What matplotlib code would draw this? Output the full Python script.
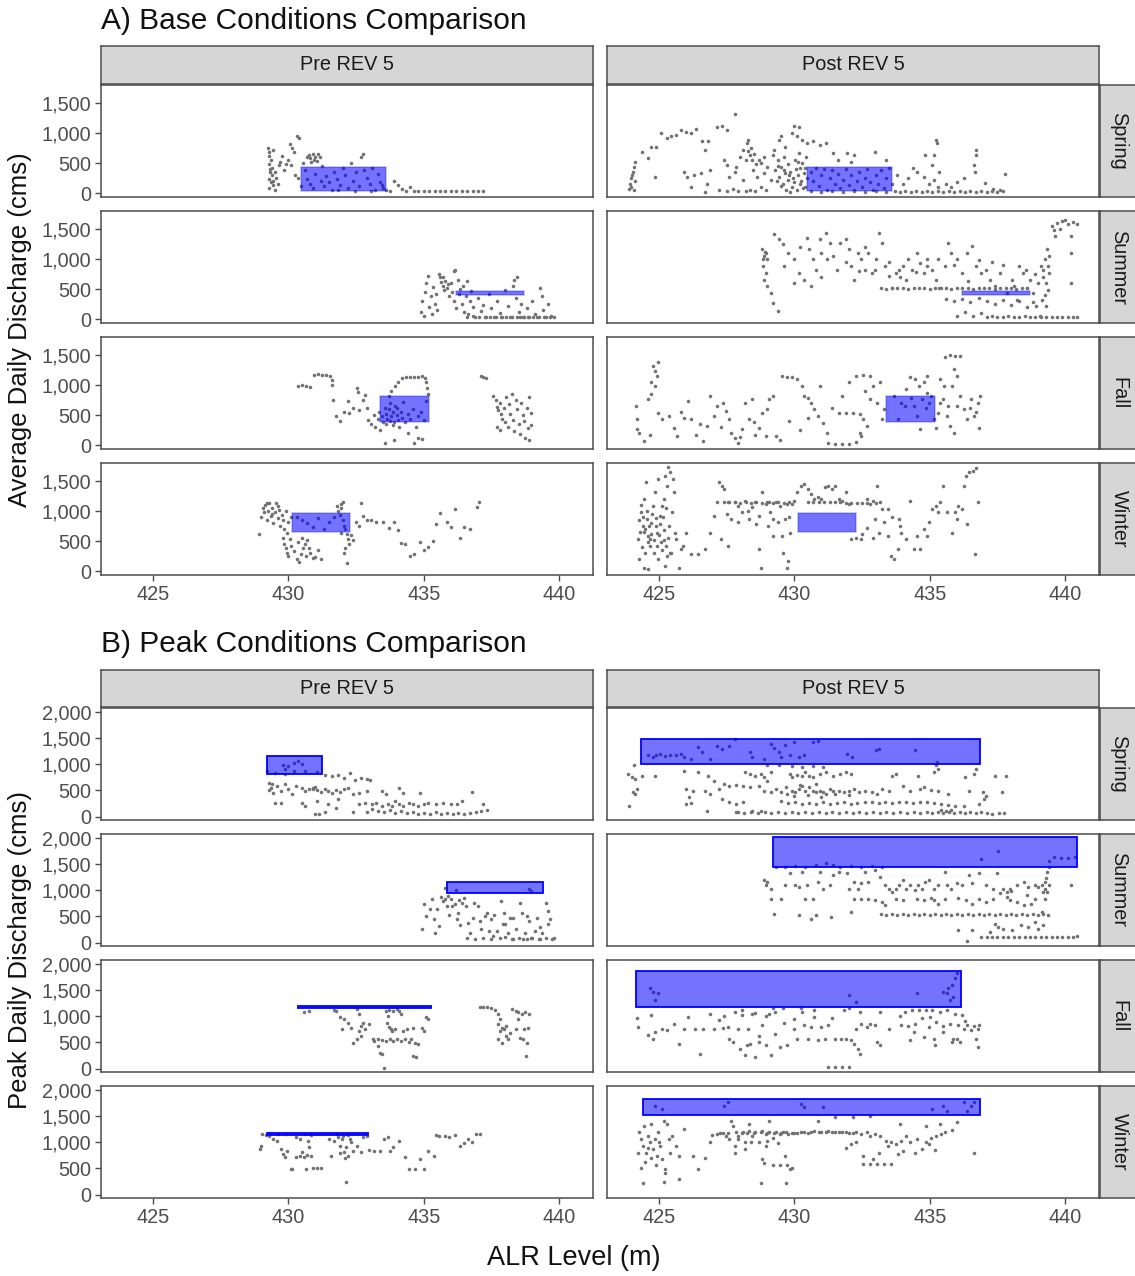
import matplotlib.pyplot as plt
from matplotlib.patches import Rectangle
from matplotlib.ticker import FuncFormatter

plt.rcParams['font.family'] = ['Liberation Sans', 'DejaVu Sans']

SEASONS = ['Spring', 'Summer', 'Fall', 'Winter']
PERIODS = ['Pre REV 5', 'Post REV 5']
X_TICKS = [425, 430, 435, 440]
BASE_Y_TICKS = [0, 500, 1000, 1500]
PEAK_Y_TICKS = [0, 500, 1000, 1500, 2000]

# target windows: (level min, level max, discharge min, discharge max)
BASE_BOX_SPRING = (430.45, 433.62, 30, 440)
BASE_BOX_SUMMER = (436.2, 438.72, 410, 465)
BASE_BOX_FALL = (433.4, 435.2, 385, 825)
BASE_BOX_WINTER = (430.15, 432.28, 655, 970)

PEAK_PRE_BOX_SPRING = (429.2, 431.25, 820, 1150)
PEAK_PRE_BOX_SUMMER = (435.85, 439.4, 940, 1155)
PEAK_PRE_BOX_FALL = (430.35, 435.25, 1150, 1190)
PEAK_PRE_BOX_WINTER = (429.2, 432.95, 1145, 1180)
PEAK_POST_BOX_SPRING = (424.35, 436.85, 1010, 1480)
PEAK_POST_BOX_SUMMER = (429.2, 440.45, 1435, 2005)
PEAK_POST_BOX_FALL = (424.15, 436.15, 1175, 1855)
PEAK_POST_BOX_WINTER = (424.4, 436.85, 1510, 1820)

# daily observations: (ALR level m, discharge cms)
BASE_PRE_SPRING = [
    (429.25, 760), (429.3, 690), (429.28, 620), (429.35, 560), (429.3, 480), (429.4, 420), (429.33, 350),
    (429.38, 300), (429.3, 240), (429.35, 180), (429.42, 130), (429.3, 90), (429.5, 60), (429.45, 200),
    (429.55, 260), (429.6, 150), (429.5, 350), (429.65, 470), (429.7, 520), (429.75, 620), (429.85, 380),
    (429.9, 480), (430.0, 560), (430.05, 820), (430.15, 760), (430.3, 950), (430.4, 920), (430.2, 680),
    (430.25, 300), (430.35, 250), (430.55, 500), (430.7, 600), (430.75, 640), (430.8, 580), (430.85, 520),
    (430.9, 660), (430.95, 560), (431.0, 610), (431.05, 540), (431.1, 650), (431.15, 600), (430.6, 380),
    (430.7, 230), (430.8, 150), (430.9, 80), (431.0, 320), (431.2, 200), (431.3, 120), (431.4, 280),
    (431.5, 180), (431.6, 60), (431.7, 350), (431.8, 240), (431.9, 130), (432.0, 420), (432.1, 300),
    (432.2, 80), (432.3, 510), (432.4, 200), (432.5, 360), (432.6, 120), (432.7, 600), (432.75, 660),
    (432.8, 380), (432.9, 250), (433.0, 150), (433.1, 420), (433.2, 60), (433.3, 320), (433.4, 180),
    (433.5, 90), (433.6, 50), (433.75, 40), (433.9, 200), (434.05, 130), (434.2, 70), (434.35, 40),
    (434.5, 110), (434.65, 40), (434.8, 30), (435.0, 35), (435.2, 40), (435.4, 30), (435.6, 35),
    (435.8, 30), (436.0, 40), (436.2, 30), (436.4, 35), (436.6, 30), (436.8, 35), (437.0, 30), (437.2, 30),
    (429.32, 400), (429.45, 720), (430.1, 470), (430.45, 120), (431.25, 450), (431.85, 60), (432.45, 40),
    (433.05, 40), (433.45, 130),
]
BASE_PRE_SUMMER = [
    (434.9, 120), (434.95, 300), (435.0, 50), (435.05, 450), (435.1, 600), (435.15, 720), (435.2, 200),
    (435.25, 380), (435.3, 80), (435.35, 540), (435.4, 260), (435.5, 150), (435.6, 700), (435.65, 620),
    (435.7, 560), (435.75, 480), (435.8, 640), (435.85, 520), (435.9, 580), (435.95, 380), (436.0, 600),
    (436.05, 450), (436.1, 300), (436.15, 820), (436.2, 180), (436.25, 660), (436.3, 420), (436.35, 500),
    (436.4, 250), (436.45, 560), (436.5, 120), (436.55, 380), (436.6, 640), (436.65, 80), (436.7, 300),
    (436.75, 470), (436.8, 200), (436.9, 40), (437.0, 350), (437.1, 130), (437.2, 240), (437.3, 40),
    (437.4, 420), (437.5, 180), (437.6, 40), (437.7, 300), (437.8, 100), (437.9, 40), (438.0, 480),
    (438.1, 220), (438.2, 40), (438.3, 560), (438.35, 650), (438.4, 360), (438.45, 700), (438.5, 120),
    (438.55, 40), (438.6, 250), (438.7, 40), (438.8, 180), (438.9, 40), (439.0, 300), (439.1, 90),
    (439.2, 40), (439.3, 520), (439.35, 380), (439.4, 160), (439.5, 40), (439.6, 250), (439.7, 60),
    (439.8, 40), (436.6, 40), (436.8, 45), (437.05, 35), (437.25, 40), (437.45, 35), (437.65, 40),
    (437.85, 35), (438.05, 40), (438.25, 35), (438.45, 40), (438.65, 35), (438.85, 40), (439.05, 35),
    (439.25, 40), (439.45, 35), (439.65, 40), (435.55, 760), (435.72, 700), (436.1, 800), (435.45, 420),
]
BASE_PRE_FALL = [
    (430.35, 980), (430.5, 1000), (430.65, 990), (430.8, 975), (430.95, 1170), (431.1, 1180),
    (431.25, 1175), (431.4, 1170), (431.55, 1150), (431.6, 1080), (431.62, 1000), (431.65, 760),
    (431.75, 480), (431.9, 400), (432.05, 560), (432.2, 730), (432.25, 530), (432.4, 620), (432.55, 960),
    (432.58, 880), (432.62, 590), (432.75, 750), (432.82, 840), (432.9, 620), (432.95, 420), (433.05, 360),
    (433.15, 500), (433.2, 300), (433.3, 440), (433.35, 560), (433.45, 480), (433.5, 380), (433.55, 620),
    (433.6, 520), (433.65, 440), (433.7, 600), (433.75, 700), (433.8, 480), (433.85, 560), (433.9, 380),
    (433.95, 650), (434.0, 500), (434.05, 420), (434.1, 300), (434.15, 560), (434.2, 460), (434.25, 720),
    (434.3, 380), (434.4, 520), (434.5, 440), (434.6, 600), (434.7, 300), (434.8, 480), (434.9, 560),
    (435.0, 420), (433.7, 820), (433.8, 900), (433.95, 980), (434.05, 1060), (434.2, 1120), (434.35, 1140),
    (434.5, 1130), (434.65, 1145), (434.8, 1140), (434.95, 1150), (435.05, 1120), (435.1, 1050),
    (435.12, 950), (435.15, 860), (435.1, 740), (433.55, 40), (433.9, 90), (434.65, 30), (434.8, 120),
    (434.92, 95), (434.4, 200), (433.4, 250), (437.1, 1150), (437.2, 1140), (437.3, 1120), (437.55, 820),
    (437.65, 750), (437.7, 640), (437.75, 580), (437.8, 700), (437.85, 520), (437.9, 440), (437.95, 620),
    (438.0, 380), (438.05, 800), (438.1, 300), (438.15, 680), (438.2, 520), (438.25, 860), (438.3, 420),
    (438.35, 240), (438.4, 760), (438.45, 600), (438.5, 360), (438.55, 180), (438.6, 700), (438.65, 500),
    (438.7, 400), (438.75, 120), (438.8, 620), (438.85, 280), (438.9, 800), (438.95, 540), (438.95, 340),
    (438.9, 90), (437.7, 300), (437.8, 250), (433.6, 350), (433.75, 400), (433.85, 330), (434.0, 620),
]
BASE_PRE_WINTER = [
    (428.9, 620), (429.0, 900), (429.05, 1050), (429.1, 980), (429.15, 1100), (429.2, 850), (429.25, 1010),
    (429.3, 1130), (429.35, 920), (429.4, 1060), (429.45, 800), (429.5, 980), (429.55, 1140), (429.6, 880),
    (429.65, 1020), (429.7, 760), (429.75, 940), (429.8, 860), (429.85, 700), (429.9, 1010), (429.95, 640),
    (430.0, 820), (430.05, 540), (430.1, 900), (429.8, 560), (429.85, 460), (429.9, 380), (429.95, 300),
    (430.0, 250), (430.1, 420), (430.2, 340), (430.3, 200), (430.35, 480), (430.4, 150), (430.45, 280),
    (430.5, 560), (430.55, 380), (430.6, 460), (430.65, 260), (430.7, 520), (430.75, 380), (430.8, 300),
    (430.9, 220), (431.0, 240), (431.1, 360), (431.2, 210), (430.3, 900), (430.5, 860), (430.7, 800),
    (430.9, 740), (431.1, 880), (431.3, 700), (431.5, 820), (431.7, 900), (431.8, 1080), (431.85, 1000),
    (431.9, 940), (431.95, 1120), (432.0, 860), (432.05, 760), (432.1, 700), (432.15, 620), (432.2, 540),
    (432.25, 460), (432.1, 380), (432.05, 300), (432.15, 140), (431.95, 640), (432.3, 600), (432.4, 520),
    (432.5, 820), (432.6, 760), (432.7, 1140), (432.75, 920), (432.9, 860), (433.05, 850), (433.25, 820),
    (433.5, 820), (433.7, 720), (433.9, 820), (434.05, 690), (434.15, 470), (434.3, 460), (434.5, 250),
    (434.65, 280), (434.85, 490), (435.0, 360), (435.15, 410), (435.35, 500), (435.45, 790), (435.6, 970),
    (435.85, 820), (436.0, 740), (436.15, 1030), (436.35, 550), (436.5, 740), (436.7, 710), (436.95, 1070),
    (437.05, 1150), (429.2, 1140), (429.4, 950), (429.6, 1080), (431.95, 1060), (432.0, 1150),
]
BASE_POST_SPRING = [
    (423.88, 75), (423.94, 160), (423.98, 245), (424.03, 356), (424.07, 440), (424.13, 525), (423.97, 100),
    (424.07, 45), (424.0, 300), (424.1, 200), (424.39, 693), (424.58, 580), (424.71, 777), (424.9, 766),
    (424.84, 272), (425.09, 1002), (425.29, 918), (425.44, 946), (425.61, 974), (425.8, 1047),
    (425.99, 1013), (426.18, 1002), (426.38, 1069), (425.93, 356), (426.05, 272), (426.18, 103),
    (426.31, 300), (426.54, 328), (426.57, 862), (426.7, 721), (426.82, 862), (426.89, 384), (426.76, 160),
    (427.15, 1103), (427.34, 1125), (427.53, 1047), (427.82, 1328), (426.7, 20), (427.4, 553), (427.53, 468),
    (427.59, 272), (427.72, 75), (427.85, 440), (427.98, 609), (428.11, 721), (428.24, 833), (428.3, 890),
    (428.36, 637), (428.43, 553), (428.49, 384), (428.62, 272), (428.75, 103), (428.88, 328), (429.0, 440),
    (429.13, 216), (428.88, 609), (428.75, 496), (428.11, 216), (428.36, 45), (427.79, 356), (428.3, 700),
    (428.4, 760), (428.5, 650), (428.2, 560), (428.6, 480), (428.7, 560), (428.55, 40), (428.95, 60),
    (427.9, 40), (427.2, 50), (427.5, 30), (428.2, 30), (429.45, 890), (429.65, 777), (429.9, 1002),
    (430.09, 946), (430.29, 890), (430.48, 833), (430.67, 862), (430.93, 805), (431.18, 833),
    (429.97, 1125), (430.16, 1103), (429.52, 946), (429.26, 721), (429.2, 637), (429.39, 553),
    (429.52, 440), (429.65, 328), (429.77, 216), (429.9, 103), (430.03, 553), (430.16, 665), (430.29, 496),
    (430.35, 328), (430.22, 160), (430.09, 48), (429.84, 20), (429.58, 160), (429.45, 272), (429.3, 380),
    (429.6, 600), (429.75, 480), (429.85, 360), (429.95, 250), (430.05, 400), (430.15, 300), (430.25, 200),
    (430.38, 420), (430.42, 600), (430.4, 100), (429.7, 60), (430.6, 350), (430.7, 200), (430.8, 420),
    (430.9, 120), (431.0, 300), (431.1, 400), (431.2, 60), (431.3, 250), (431.4, 380), (431.5, 150),
    (431.6, 320), (431.7, 80), (431.8, 220), (431.9, 400), (432.0, 130), (432.1, 300), (432.2, 50),
    (432.3, 200), (432.4, 350), (432.5, 100), (432.6, 250), (432.7, 400), (432.8, 180), (432.9, 60),
    (433.0, 300), (433.1, 150), (433.2, 380), (433.3, 90), (433.4, 250), (433.5, 420), (433.6, 160),
    (431.44, 665), (431.95, 665), (432.21, 637), (432.98, 693), (432.08, 525), (431.6, 560), (433.4, 560),
    (434.0, 160), (434.39, 412), (434.52, 356), (434.78, 272), (434.97, 160), (435.16, 216), (435.29, 103),
    (435.22, 890), (435.26, 833), (434.84, 637), (435.16, 637), (435.1, 468), (435.35, 356), (433.8, 300),
    (434.2, 250), (433.7, 30), (433.9, 25), (434.1, 35), (434.3, 20), (434.5, 30), (434.7, 25), (434.9, 35),
    (435.1, 20), (435.3, 30), (435.5, 25), (435.7, 35), (435.9, 20), (436.1, 30), (436.3, 25), (436.5, 35),
    (436.7, 20), (436.9, 30), (437.1, 25), (437.3, 35), (437.5, 20), (437.7, 30), (430.6, 30), (431.0, 25),
    (431.4, 30), (431.8, 25), (432.2, 30), (432.6, 25), (433.0, 30), (433.4, 25), (436.7, 721),
    (436.72, 637), (436.64, 468), (436.68, 356), (436.25, 244), (437.03, 170), (437.79, 318), (437.6, 48),
    (437.34, 75), (435.6, 150), (435.8, 100), (436.0, 180), (429.35, 200), (429.5, 120), (429.62, 380),
    (429.8, 300), (430.0, 180), (430.12, 520), (430.3, 80), (430.45, 250), (429.4, 460), (430.2, 420),
]
BASE_POST_SUMMER = [
    (428.81, 1163), (428.88, 1051), (428.94, 1107), (429.0, 996), (428.84, 884), (428.94, 772),
    (428.88, 661), (429.0, 549), (429.13, 437), (429.2, 270), (429.39, 130), (429.26, 1414), (429.45, 1330),
    (429.58, 1247), (428.85, 1000), (428.9, 1120), (429.77, 1107), (429.97, 996), (430.16, 772),
    (430.35, 661), (430.48, 1358), (430.54, 1163), (430.67, 996), (430.8, 828), (430.93, 1330),
    (430.99, 1107), (431.18, 1442), (431.31, 1275), (431.44, 1051), (431.57, 828), (431.7, 1275),
    (431.89, 1330), (432.02, 1163), (432.08, 884), (432.21, 661), (432.34, 1107), (432.46, 996),
    (432.59, 828), (432.72, 1107), (432.85, 772), (432.98, 828), (433.11, 1442), (433.23, 1275),
    (433.36, 884), (433.49, 716), (433.62, 521), (433.75, 772), (433.88, 828), (434.01, 884), (434.14, 661),
    (434.33, 828), (434.52, 1107), (434.65, 940), (434.78, 772), (434.91, 996), (435.1, 828), (435.22, 661),
    (435.35, 521), (435.55, 884), (435.67, 1275), (435.8, 1107), (436.0, 996), (436.19, 772), (436.38, 1107),
    (436.57, 1219), (436.7, 884), (436.89, 772), (437.08, 828), (437.21, 661), (437.4, 549), (437.6, 772),
    (437.85, 437), (438.04, 661), (438.23, 326), (438.43, 772), (438.56, 828), (438.69, 661), (438.81, 437),
    (438.94, 214), (439.07, 47), (439.13, 326), (439.2, 828), (439.26, 996), (439.33, 1163), (439.39, 772),
    (439.36, 493), (439.29, 214), (439.52, 1554), (439.71, 1610), (439.9, 1637), (440.1, 1582),
    (440.29, 1621), (440.42, 1582), (439.64, 1386), (440.22, 1386), (440.22, 1107), (440.22, 605),
    (439.6, 1480), (439.8, 1500), (440.0, 1650), (429.6, 880), (430.0, 600), (430.2, 1200), (430.6, 560),
    (431.0, 700), (431.2, 1000), (431.9, 950), (432.4, 800), (432.6, 1200), (433.0, 1000), (433.5, 960),
    (433.9, 700), (434.2, 1000), (434.5, 780), (434.9, 880), (435.3, 1000), (435.9, 900), (436.4, 640),
    (436.8, 980), (437.3, 960), (437.7, 900), (438.1, 560), (438.3, 880), (438.6, 520), (438.9, 760),
    (439.0, 600), (439.1, 880), (439.2, 700), (439.25, 400), (439.3, 600), (439.35, 880), (439.4, 1050),
    (433.2, 520), (433.4, 510), (433.6, 525), (433.8, 515), (434.0, 520), (434.2, 510), (434.4, 525),
    (434.6, 515), (434.8, 520), (435.0, 510), (435.2, 525), (435.4, 515), (435.6, 520), (435.8, 510),
    (436.0, 525), (436.2, 515), (436.4, 520), (436.6, 510), (436.8, 525), (437.0, 515), (437.2, 520),
    (437.4, 510), (437.6, 525), (437.8, 515), (438.0, 520), (438.2, 510), (438.4, 525), (438.6, 515),
    (435.6, 340), (435.9, 300), (436.2, 330), (436.5, 280), (436.8, 350), (437.1, 300), (437.4, 260),
    (437.7, 320), (438.0, 240), (438.3, 300), (438.6, 200), (438.8, 280), (436.0, 60), (436.3, 120),
    (436.6, 50), (436.9, 100), (437.1, 40), (437.3, 50), (437.5, 40), (437.7, 35), (437.9, 45), (438.1, 40),
    (438.3, 35), (438.5, 45), (438.7, 40), (438.9, 35), (439.1, 40), (439.3, 35), (439.5, 40), (439.7, 30),
    (439.9, 35), (440.1, 30), (440.3, 35), (440.45, 30),
]
BASE_POST_FALL = [
    (424.14, 654), (424.2, 430), (424.18, 261), (424.27, 205), (424.46, 64), (424.65, 176), (424.59, 766),
    (424.69, 850), (424.72, 1047), (424.78, 1328), (424.85, 1243), (424.91, 1159), (424.97, 1384),
    (424.87, 991), (424.97, 542), (425.1, 430), (425.36, 486), (425.55, 289), (425.68, 148), (425.94, 457),
    (426.06, 738), (426.19, 430), (426.38, 176), (426.62, 64), (426.77, 317), (426.9, 822), (427.03, 486),
    (427.15, 654), (427.35, 710), (427.47, 570), (427.6, 430), (427.67, 205), (427.79, 120), (427.92, 36),
    (428.05, 261), (428.18, 710), (428.31, 430), (428.44, 766), (428.56, 176), (428.69, 289), (428.82, 542),
    (428.95, 148), (429.08, 766), (429.21, 822), (429.33, 148), (429.46, 92), (429.53, 1159), (429.72, 1131),
    (429.91, 1131), (430.1, 1103), (430.29, 991), (430.36, 822), (430.49, 794), (430.62, 710), (430.74, 598),
    (430.87, 486), (430.94, 991), (431.06, 373), (431.19, 205), (431.26, 36), (431.51, 25), (431.77, 25),
    (432.03, 25), (432.28, 47), (431.64, 542), (431.9, 542), (432.15, 542), (432.41, 514), (432.54, 430),
    (432.67, 317), (432.41, 205), (432.47, 148), (431.77, 822), (432.03, 1047), (432.28, 1159),
    (432.54, 1170), (432.79, 1159), (432.92, 991), (432.79, 766), (433.05, 710), (433.18, 1047),
    (433.24, 430), (433.69, 822), (433.95, 710), (434.14, 934), (434.27, 1131), (434.4, 654), (434.53, 486),
    (434.65, 261), (434.78, 1047), (434.91, 1159), (435.04, 822), (435.17, 430), (435.23, 289),
    (435.36, 1103), (435.49, 766), (435.55, 1468), (435.74, 1507), (435.94, 1485), (436.13, 1485),
    (435.88, 1272), (435.99, 1159), (435.62, 486), (435.74, 317), (435.88, 205), (436.0, 654), (436.13, 822),
    (436.26, 598), (436.38, 430), (436.51, 766), (436.64, 486), (436.77, 710), (436.83, 289), (436.87, 822),
    (435.51, 991), (435.68, 654), (435.81, 991), (435.36, 710), (434.59, 991), (434.46, 1103), (434.08, 654),
    (433.82, 430), (434.85, 626), (434.97, 710), (434.72, 766), (425.8, 560), (426.5, 360), (427.3, 300),
    (428.0, 140), (428.5, 380), (429.0, 600), (429.8, 400), (430.2, 250), (430.5, 450), (431.4, 620),
    (432.6, 900), (433.3, 600), (434.3, 780), (434.9, 870), (435.3, 540), (436.5, 620), (436.7, 560),
]
BASE_POST_WINTER = [
    (424.21, 532), (424.27, 197), (424.33, 979), (424.4, 756), (424.44, 58), (424.46, 1202), (424.53, 1481),
    (424.56, 867), (424.59, 588), (424.65, 421), (424.72, 811), (424.78, 1091), (424.82, 309), (424.85, 1314),
    (424.91, 644), (424.95, 1537), (424.97, 197), (425.04, 923), (425.1, 1091), (425.17, 1202), (425.21, 86),
    (425.23, 1593), (425.26, 421), (425.29, 1426), (425.33, 1732), (425.36, 756), (425.42, 1649),
    (425.46, 309), (425.51, 1537), (425.55, 1314), (425.62, 532), (425.74, 58), (425.81, 365), (425.9, 421),
    (426.0, 644), (426.19, 281), (426.45, 281), (426.71, 365), (424.59, 30), (424.3, 650), (424.4, 900),
    (424.5, 700), (424.6, 480), (424.7, 620), (424.8, 520), (424.9, 760), (425.0, 600), (425.1, 350),
    (425.2, 520), (425.3, 250), (426.9, 644), (427.03, 923), (427.15, 1158), (427.22, 1481), (427.31, 1426),
    (427.41, 1370), (427.54, 1147), (427.67, 867), (427.79, 1147), (427.92, 1091), (428.05, 979),
    (428.18, 1174), (428.31, 867), (428.44, 1063), (428.56, 1147), (428.69, 923), (428.82, 1314),
    (428.95, 1119), (429.01, 756), (429.08, 1158), (429.21, 867), (429.33, 1147), (429.46, 1091),
    (429.53, 588), (429.59, 309), (429.65, 867), (429.72, 1119), (429.78, 170), (429.85, 644), (429.91, 1119),
    (429.97, 1174), (430.1, 1314), (430.23, 1426), (430.36, 1453), (430.49, 1370), (430.62, 1286),
    (430.74, 1202), (430.87, 1230), (431.0, 1202), (431.13, 1398), (431.26, 1426), (431.38, 1370),
    (431.51, 1426), (431.64, 1202), (431.77, 1174), (431.9, 1314), (432.03, 1119), (432.09, 532),
    (432.28, 560), (432.47, 532), (432.67, 1202), (432.79, 1119), (432.92, 1174), (432.99, 867),
    (433.05, 1426), (433.12, 644), (433.24, 1035), (433.31, 812), (433.44, 588), (433.56, 253),
    (433.69, 197), (433.82, 365), (433.88, 867), (433.95, 644), (434.14, 532), (434.27, 1174), (434.4, 365),
    (434.53, 588), (434.65, 365), (434.78, 700), (434.91, 588), (434.97, 812), (435.1, 1035), (435.23, 1091),
    (435.36, 1147), (435.49, 1426), (435.62, 979), (435.81, 644), (436.0, 867), (436.19, 1035),
    (436.26, 1426), (436.32, 1593), (436.45, 1649), (436.58, 1677), (436.71, 1716), (436.77, 1147),
    (436.67, 281), (436.38, 784), (436.06, 1091), (435.94, 979), (435.29, 979), (433.44, 1035),
    (433.18, 1147), (428.76, 58), (429.72, 58), (427.54, 421), (427.28, 532), (428.69, 365), (429.21, 588),
    (427.4, 1150), (427.6, 1150), (427.8, 1150), (428.0, 1145), (428.2, 1150), (428.4, 1145), (428.6, 1150),
    (428.8, 1145), (429.0, 1150), (429.2, 1145), (429.4, 1150), (429.6, 1140), (429.8, 1150), (430.5, 1155),
    (430.7, 1160), (430.9, 1150), (431.1, 1160), (431.3, 1155), (431.5, 1160), (431.7, 1150), (431.9, 1140),
    (432.1, 1135), (432.3, 1130), (432.5, 1140), (432.7, 1130), (433.0, 1140), (427.5, 950), (427.9, 820),
    (428.3, 1000), (428.6, 780), (429.1, 980), (429.4, 820), (429.8, 900), (432.5, 620), (432.7, 720),
    (432.9, 560), (433.6, 900), (433.9, 760), (424.25, 850), (424.35, 1100), (424.45, 650), (424.55, 1000),
    (424.62, 760), (424.68, 540), (424.75, 950), (424.88, 880), (424.93, 420), (425.02, 780), (425.08, 480),
    (425.14, 900), (425.2, 680), (425.27, 1050), (425.33, 560), (425.4, 300), (425.48, 980), (425.58, 640),
    (424.38, 400), (424.48, 300),
]

PEAK_PRE_SPRING = [
    (429.79, 990), (430.0, 959), (430.21, 1022), (430.35, 1054), (430.49, 1009), (429.86, 908),
    (429.22, 864), (429.5, 833), (429.86, 820), (430.21, 864), (430.63, 864), (431.06, 845), (431.34, 801),
    (431.62, 770), (431.84, 801), (432.05, 738), (432.26, 833), (432.47, 707), (432.68, 738), (432.89, 719),
    (433.03, 694), (429.29, 644), (429.36, 549), (429.43, 454), (429.57, 580), (429.71, 486), (429.86, 612),
    (430.0, 517), (430.14, 423), (430.28, 580), (430.49, 549), (430.63, 486), (430.77, 517), (430.92, 549),
    (431.06, 505), (431.2, 467), (431.34, 530), (431.48, 486), (431.62, 454), (431.76, 505), (431.9, 467),
    (432.05, 517), (432.19, 549), (432.4, 423), (432.61, 454), (432.89, 486), (433.46, 486), (433.6, 423),
    (434.1, 549), (434.24, 454), (434.87, 454), (436.78, 467), (429.5, 265), (429.71, 252), (430.49, 265),
    (430.63, 202), (431.06, 297), (431.48, 233), (431.84, 328), (431.76, 170), (430.99, 44), (431.13, 44),
    (431.34, 88), (432.4, 88), (432.61, 233), (432.82, 265), (433.1, 233), (433.24, 265), (433.46, 202),
    (433.67, 233), (433.81, 202), (433.95, 297), (434.1, 233), (434.24, 202), (434.45, 265), (434.59, 233),
    (434.8, 202), (435.01, 233), (435.15, 265), (435.44, 233), (435.72, 265), (436.0, 233), (436.21, 233),
    (436.42, 297), (437.19, 233), (432.89, 88), (433.1, 139), (433.32, 107), (433.53, 88), (433.74, 126),
    (433.95, 76), (434.17, 107), (434.38, 63), (434.59, 88), (434.8, 44), (435.01, 76), (435.22, 44),
    (435.44, 88), (435.65, 44), (435.86, 76), (436.07, 44), (436.28, 76), (436.5, 44), (436.71, 76),
    (436.92, 88), (437.13, 107), (437.34, 126), (429.3, 500), (429.4, 620), (430.9, 520), (431.0, 560),
]
PEAK_PRE_SUMMER = [
    (435.01, 730), (435.08, 508), (434.94, 254), (435.22, 635), (435.29, 825), (435.36, 444), (435.43, 190),
    (435.57, 317), (435.72, 794), (435.79, 838), (435.86, 698), (436.0, 825), (436.14, 730), (436.21, 444),
    (436.28, 571), (436.42, 762), (436.49, 857), (436.57, 698), (436.64, 381), (436.71, 190), (436.85, 762),
    (436.99, 698), (437.06, 413), (437.13, 254), (437.27, 508), (437.42, 222), (437.49, 444), (437.56, 127),
    (437.7, 222), (437.84, 794), (437.91, 349), (437.98, 571), (438.12, 190), (438.19, 476), (438.26, 63),
    (438.4, 254), (438.54, 762), (438.61, 571), (438.68, 63), (438.75, 190), (438.82, 508), (438.96, 95),
    (439.1, 222), (439.17, 476), (439.24, 63), (439.38, 190), (439.52, 762), (439.59, 603), (439.67, 444),
    (439.74, 76), (439.81, 95), (436.6, 80), (436.9, 70), (437.2, 90), (437.5, 60), (437.8, 80), (438.0, 100),
    (438.3, 70), (438.5, 90), (438.8, 60), (439.0, 80), (439.3, 70), (439.5, 90), (435.65, 860),
    (435.9, 880), (436.05, 700), (436.3, 820), (435.5, 640), (435.95, 520), (436.35, 330), (436.8, 460),
    (437.35, 560), (437.6, 520), (438.0, 360), (438.3, 470), (438.9, 420), (439.3, 300), (439.6, 360),
    (435.8, 1050), (436.2, 1000), (438.9, 1020), (438.95, 980),
]
PEAK_PRE_FALL = [
    (430.57, 1071), (430.78, 1103), (431.7, 1122), (431.77, 1103), (431.91, 974), (432.05, 942),
    (432.19, 878), (431.98, 750), (432.33, 782), (432.55, 1135), (432.62, 1038), (432.69, 814), (432.76, 878),
    (432.83, 750), (432.97, 846), (432.62, 718), (432.4, 494), (432.55, 558), (432.69, 622), (433.6, 1103),
    (433.67, 1006), (433.64, 878), (433.7, 801), (433.79, 763), (433.84, 718), (433.93, 750), (434.03, 1135),
    (434.1, 1103), (434.17, 1038), (433.11, 558), (433.18, 526), (433.32, 558), (433.46, 545), (433.6, 526),
    (433.74, 558), (433.88, 526), (434.03, 558), (434.17, 526), (434.31, 558), (434.45, 506), (434.52, 571),
    (434.66, 494), (434.8, 462), (434.24, 718), (434.38, 750), (434.59, 782), (434.94, 782), (435.01, 718),
    (435.08, 974), (435.15, 942), (433.32, 430), (433.39, 301), (433.46, 269), (433.53, 13), (434.59, 237),
    (434.73, 224), (437.06, 1167), (437.2, 1167), (437.34, 1167), (437.48, 1147), (437.62, 1122),
    (437.76, 1038), (437.83, 942), (437.76, 846), (437.9, 782), (437.83, 718), (438.04, 622), (437.76, 558),
    (437.9, 494), (438.05, 814), (438.19, 686), (438.26, 1135), (438.4, 1103), (438.47, 1071), (438.61, 1038),
    (438.75, 1071), (438.89, 1038), (438.47, 942), (438.4, 750), (438.54, 590), (438.68, 558), (438.82, 494),
    (438.72, 750), (438.86, 782), (438.78, 237), (437.97, 750), (438.12, 558), (433.7, 1120), (433.85, 1100),
]
PEAK_PRE_WINTER = [
    (428.95, 870), (428.99, 933), (429.02, 1156), (429.16, 1136), (429.3, 1124), (429.44, 1060),
    (429.58, 1028), (429.72, 870), (429.79, 775), (429.86, 711), (429.94, 838), (430.08, 489), (430.15, 489),
    (430.29, 1092), (430.43, 1060), (430.57, 711), (430.64, 489), (430.71, 1028), (430.78, 902),
    (430.85, 743), (430.92, 502), (431.06, 502), (431.2, 502), (430.43, 743), (430.29, 711), (431.56, 743),
    (431.49, 1060), (431.7, 1028), (431.84, 1092), (431.91, 933), (431.98, 1060), (432.05, 806),
    (432.12, 902), (432.19, 743), (432.26, 1060), (432.33, 997), (432.12, 248), (432.4, 838), (432.55, 933),
    (432.69, 806), (432.76, 1092), (432.9, 1124), (432.97, 857), (433.18, 838), (433.39, 832), (433.53, 1060),
    (433.67, 1092), (433.74, 838), (433.88, 902), (434.1, 1028), (434.31, 711), (434.45, 489), (434.66, 489),
    (434.87, 679), (435.01, 489), (435.15, 838), (435.37, 743), (435.44, 1136), (435.58, 1124),
    (435.79, 1124), (435.93, 1092), (436.15, 1136), (436.35, 933), (436.49, 984), (436.64, 1060),
    (436.78, 1009), (436.92, 1156), (437.06, 1156), (429.3, 1168), (429.6, 1150), (429.9, 1150),
    (430.6, 1150), (430.85, 1140), (431.8, 1150), (432.0, 1120), (432.2, 1140), (430.5, 820), (430.7, 760),
    (431.9, 800), (432.1, 700),
]
PEAK_POST_SPRING = [
    (424.58, 1165), (424.77, 1133), (424.9, 1165), (425.03, 1197), (425.22, 1152), (425.41, 1165),
    (425.61, 1178), (425.8, 1197), (425.93, 1133), (426.18, 1101), (426.44, 1324), (426.57, 1229),
    (426.89, 1101), (427.15, 1344), (427.34, 1293), (427.6, 1344), (427.79, 1471), (428.36, 1229),
    (428.43, 1133), (428.88, 1101), (429.13, 1388), (429.26, 1305), (429.45, 1229), (429.49, 1133),
    (429.65, 1356), (429.84, 1165), (429.97, 1420), (430.16, 1133), (430.35, 1165), (430.67, 1420),
    (430.86, 1433), (431.95, 1197), (432.14, 1133), (433.0, 1261), (433.11, 1293), (434.45, 1261),
    (435.26, 1038), (423.87, 815), (424.0, 751), (424.07, 974), (424.11, 719), (424.2, 528), (424.03, 464),
    (424.1, 432), (423.9, 209), (424.39, 783), (424.84, 783), (425.93, 878), (425.99, 528), (426.25, 496),
    (426.12, 368), (426.18, 260), (425.99, 241), (426.7, 496), (426.89, 432), (426.44, 846), (426.82, 783),
    (427.02, 687), (427.21, 528), (427.4, 623), (427.6, 592), (427.85, 604), (428.11, 579), (428.36, 560),
    (427.34, 337), (427.6, 273), (427.85, 241), (428.11, 273), (426.76, 114), (427.85, 94), (428.43, 114),
    (428.75, 114), (428.17, 846), (428.36, 815), (428.55, 783), (428.75, 815), (428.88, 751), (429.0, 687),
    (429.13, 846), (428.68, 592), (428.88, 496), (429.13, 464), (429.33, 528), (429.52, 464), (429.71, 432),
    (429.9, 496), (430.03, 464), (430.16, 528), (430.29, 592), (430.41, 496), (430.54, 560), (430.67, 496),
    (430.8, 464), (430.93, 496), (431.06, 464), (431.18, 432), (431.31, 528), (431.44, 496), (431.63, 496),
    (431.82, 464), (432.02, 496), (432.21, 528), (432.4, 464), (432.59, 496), (432.85, 464), (433.04, 432),
    (433.24, 528), (433.49, 496), (429.84, 815), (429.9, 751), (430.09, 796), (430.29, 770), (430.41, 846),
    (430.54, 783), (430.67, 751), (430.93, 815), (431.18, 846), (431.44, 783), (431.7, 815), (431.89, 846),
    (432.08, 815), (430.29, 942), (430.67, 961), (431.06, 942), (429.0, 974), (429.45, 974), (429.9, 961),
    (429.52, 305), (429.78, 260), (430.03, 273), (430.29, 241), (430.54, 260), (430.8, 241), (431.06, 273),
    (431.31, 241), (431.57, 260), (431.82, 273), (432.08, 241), (432.33, 260), (432.59, 273), (432.85, 286),
    (433.11, 260), (433.36, 273), (433.62, 260), (433.88, 273), (434.13, 286), (434.39, 260), (434.65, 273),
    (434.9, 286), (435.16, 260), (435.42, 241), (435.68, 222), (435.93, 209), (436.25, 209), (433.62, 783),
    (433.75, 815), (434.58, 783), (435.16, 846), (435.22, 974), (435.29, 910), (436.31, 751), (436.64, 815),
    (436.7, 910), (437.42, 783), (437.8, 770), (434.01, 592), (434.27, 496), (434.65, 528), (434.78, 560),
    (435.03, 515), (435.29, 496), (435.68, 432), (436.45, 496), (436.96, 464), (437.08, 400), (437.67, 477),
    (437.02, 337), (436.83, 241), (427.9, 90), (428.15, 70), (428.4, 95), (428.65, 60), (428.9, 85),
    (429.15, 70), (429.4, 95), (429.65, 60), (429.9, 85), (430.15, 70), (430.4, 95), (430.65, 65),
    (430.9, 85), (431.15, 70), (431.4, 90), (431.65, 60), (431.9, 85), (432.15, 70), (432.4, 95),
    (432.65, 65), (432.9, 85), (433.15, 70), (433.4, 90), (433.65, 60), (433.9, 85), (434.15, 70),
    (434.4, 95), (434.65, 65), (434.9, 80), (435.1, 60), (435.3, 90), (435.5, 70), (435.7, 85), (435.9, 60),
    (436.1, 80), (436.3, 65), (436.5, 90), (436.7, 60), (436.9, 80), (437.1, 70), (437.3, 55), (437.55, 75),
    (437.75, 60), (435.4, 120), (435.6, 110), (435.8, 130), (430.0, 400), (430.5, 420), (431.0, 380),
    (431.5, 430), (432.0, 410), (429.7, 560), (430.2, 600), (430.8, 620),
]
PEAK_POST_SUMMER = [
    (436.89, 1592), (437.53, 1745), (439.39, 1554), (439.58, 1637), (439.84, 1618), (440.1, 1618),
    (440.35, 1630), (439.39, 1446), (439.33, 1350), (429.33, 1446), (429.65, 1446), (430.03, 1465),
    (430.41, 1446), (430.8, 1477), (431.18, 1509), (431.44, 1477), (431.7, 1446), (432.08, 1465),
    (432.46, 1446), (432.85, 1465), (433.24, 1446), (428.88, 1191), (428.94, 1095), (429.0, 1146),
    (429.13, 1031), (429.65, 1095), (429.84, 1318), (430.03, 1095), (430.16, 1063), (430.29, 1350),
    (430.48, 1095), (430.86, 1159), (430.93, 1350), (431.06, 1031), (431.31, 1095), (431.44, 1286),
    (431.63, 1350), (431.95, 1318), (432.02, 1031), (432.21, 1159), (432.34, 1031), (432.46, 1127),
    (432.59, 1350), (432.72, 1159), (432.98, 1382), (433.17, 1254), (433.36, 1095), (433.49, 1031),
    (433.62, 967), (433.75, 1031), (433.88, 1095), (434.01, 1191), (434.14, 1031), (434.26, 1095),
    (434.45, 999), (434.58, 1095), (434.71, 1031), (434.84, 1159), (434.97, 1191), (435.16, 1031),
    (435.29, 1095), (435.55, 1350), (435.62, 1095), (435.8, 1031), (435.99, 1127), (436.19, 1095),
    (436.44, 1286), (436.57, 1127), (436.83, 1318), (437.08, 1095), (437.34, 1031), (437.47, 1318),
    (437.72, 1031), (437.85, 967), (437.98, 1031), (438.24, 1095), (438.49, 1159), (438.62, 1063),
    (438.88, 1095), (439.01, 1063), (439.13, 1095), (439.26, 1031), (439.39, 1095), (439.33, 967),
    (440.23, 1095), (429.13, 840), (429.52, 827), (430.41, 840), (430.67, 840), (432.21, 840), (432.46, 827),
    (432.72, 840), (432.98, 808), (433.24, 776), (433.36, 726), (433.75, 840), (434.01, 808), (434.52, 840),
    (434.78, 808), (435.03, 853), (435.16, 808), (435.29, 744), (435.55, 827), (436.06, 853), (436.32, 808),
    (436.57, 744), (436.83, 827), (437.08, 776), (437.34, 840), (437.6, 936), (437.85, 872), (437.98, 808),
    (438.24, 776), (438.49, 713), (438.75, 744), (438.88, 840), (439.26, 827), (439.13, 585), (429.26, 553),
    (430.16, 521), (430.61, 458), (430.8, 521), (431.37, 490), (432.08, 585), (436.06, 235), (436.38, 25),
    (436.57, 235), (437.21, 203), (437.4, 362), (437.53, 298), (437.72, 267), (438.04, 235), (438.36, 330),
    (438.62, 298), (438.88, 394), (439.01, 267), (439.2, 330), (433.2, 540), (433.4, 530), (433.6, 545),
    (433.8, 535), (434.0, 540), (434.2, 530), (434.4, 545), (434.6, 535), (434.8, 540), (435.0, 530),
    (435.2, 545), (435.4, 535), (435.6, 540), (435.8, 530), (436.0, 545), (436.2, 535), (436.4, 540),
    (436.6, 530), (436.8, 545), (437.0, 535), (437.2, 540), (437.4, 530), (437.6, 545), (437.8, 535),
    (438.0, 540), (438.2, 530), (438.4, 545), (438.6, 535), (438.8, 540), (439.0, 530), (439.2, 545),
    (439.35, 535), (436.9, 110), (437.1, 100), (437.3, 115), (437.5, 105), (437.7, 110), (437.9, 100),
    (438.1, 115), (438.3, 105), (438.5, 110), (438.7, 100), (438.9, 115), (439.1, 105), (439.3, 110),
    (439.5, 100), (439.7, 110), (439.9, 105), (440.1, 110), (440.3, 115), (440.42, 120), (439.2, 960),
    (439.25, 1150), (439.3, 1230), (438.6, 900), (438.0, 980),
]
PEAK_POST_FALL = [
    (424.65, 1528), (424.78, 1465), (424.85, 1305), (424.97, 1433), (432.03, 1401), (432.28, 1273),
    (434.53, 1433), (435.49, 1465), (435.68, 1528), (435.81, 1592), (435.94, 1719), (436.0, 1815),
    (435.87, 1369), (435.74, 1305), (435.62, 1433), (424.18, 955), (424.21, 795), (424.72, 1018),
    (424.85, 700), (424.78, 572), (424.59, 636), (425.1, 763), (425.29, 732), (425.55, 859), (425.74, 477),
    (425.94, 763), (426.06, 987), (426.32, 751), (426.51, 286), (426.64, 763), (426.9, 1050), (427.03, 763),
    (427.22, 923), (427.35, 776), (427.41, 1005), (427.54, 795), (427.6, 572), (427.73, 509), (427.79, 1082),
    (427.92, 763), (427.99, 381), (428.05, 1114), (428.18, 254), (428.24, 445), (428.37, 477), (428.44, 1050),
    (428.56, 222), (428.69, 509), (428.82, 827), (428.95, 445), (429.08, 1050), (429.14, 254),
    (429.27, 1082), (429.46, 413), (429.72, 445), (429.97, 763), (430.1, 572), (430.29, 1082), (430.36, 827),
    (430.49, 572), (430.62, 795), (430.74, 987), (430.87, 541), (431.0, 795), (431.13, 572), (431.26, 827),
    (431.38, 955), (431.51, 572), (431.71, 572), (431.9, 572), (432.09, 541), (432.22, 477), (432.35, 381),
    (432.41, 286), (432.28, 763), (432.47, 859), (432.67, 795), (432.79, 859), (432.99, 827), (433.18, 1082),
    (432.41, 1082), (432.03, 1146), (431.83, 1114), (431.26, 32), (431.51, 32), (431.77, 32), (432.03, 32),
    (430.23, 1146), (430.74, 1114), (429.59, 1146), (429.21, 1146), (428.95, 1005), (428.56, 1069),
    (428.05, 1018), (433.06, 509), (433.18, 445), (433.95, 840), (434.08, 1082), (434.21, 814), (434.27, 541),
    (434.33, 1114), (434.46, 859), (434.59, 1114), (434.72, 955), (434.78, 604), (434.85, 1114),
    (434.97, 795), (435.1, 1114), (435.17, 572), (435.21, 445), (435.23, 891), (435.36, 1082), (435.49, 814),
    (435.62, 1114), (435.74, 859), (435.87, 572), (435.94, 1050), (436.06, 827), (436.13, 509),
    (436.19, 1018), (436.26, 763), (436.38, 827), (436.51, 732), (436.64, 814), (436.77, 763), (436.83, 827),
    (436.77, 413), (436.71, 572), (436.0, 572), (435.81, 509), (428.3, 760), (428.7, 620), (429.3, 650),
    (429.6, 860), (430.0, 940), (433.5, 760), (433.9, 1000), (434.4, 700), (435.0, 980), (435.5, 700),
    (436.3, 900),
]
PEAK_POST_WINTER = [
    (424.85, 1694), (425.1, 1630), (427.41, 1694), (427.54, 1758), (430.23, 1726), (430.36, 1662),
    (431.06, 1662), (435.1, 1630), (435.49, 1694), (435.62, 1598), (436.26, 1758), (436.38, 1598),
    (436.64, 1758), (436.51, 1694), (432.79, 1503), (424.27, 1184), (424.33, 1057), (424.4, 929),
    (424.46, 1312), (424.53, 802), (424.59, 1120), (424.65, 993), (424.72, 1343), (424.78, 866),
    (424.85, 1057), (424.91, 738), (424.97, 1184), (425.04, 929), (425.1, 674), (425.17, 1407), (425.23, 483),
    (425.29, 1343), (425.36, 1057), (425.42, 802), (425.49, 1120), (425.62, 929), (425.74, 738),
    (425.94, 1248), (424.21, 802), (424.33, 515), (424.4, 228), (425.17, 241), (425.74, 292), (425.23, 420),
    (426.26, 738), (426.45, 483), (426.71, 706), (424.5, 620), (424.6, 880), (424.7, 700), (424.9, 560),
    (425.0, 1000), (426.96, 1133), (427.15, 1152), (427.35, 1171), (427.47, 1120), (427.6, 1057),
    (427.73, 1312), (427.79, 929), (427.92, 1120), (428.12, 1184), (428.18, 993), (428.31, 1216),
    (428.44, 1120), (428.56, 1184), (428.69, 993), (428.82, 1216), (428.95, 1152), (429.08, 1184),
    (429.21, 1088), (429.33, 1184), (429.46, 1152), (429.59, 1184), (429.78, 1152), (429.97, 1171),
    (430.23, 1184), (430.49, 1171), (430.74, 1203), (431.0, 1184), (431.26, 1203), (431.51, 1184),
    (431.77, 1184), (432.03, 1171), (432.28, 1184), (432.47, 1152), (432.67, 1184), (432.79, 1120),
    (432.99, 1152), (433.18, 1120), (433.37, 1025), (433.56, 993), (433.76, 961), (433.95, 1025),
    (434.14, 1120), (434.27, 993), (434.53, 1057), (434.85, 993), (435.04, 1088), (435.23, 1120),
    (435.42, 1152), (435.55, 1184), (435.81, 1235), (436.0, 1375), (435.36, 1343), (434.85, 1312),
    (436.64, 802), (426.9, 993), (427.79, 802), (428.18, 866), (428.82, 674), (428.88, 610), (428.95, 929),
    (429.21, 559), (429.46, 559), (429.65, 738), (429.72, 559), (429.91, 515), (429.85, 483), (428.76, 216),
    (429.68, 216), (431.9, 897), (432.09, 961), (432.28, 993), (432.54, 738), (432.54, 579), (432.79, 579),
    (433.05, 579), (433.31, 579), (433.56, 579), (432.92, 674), (433.12, 802), (433.44, 929), (433.82, 770),
    (434.01, 834), (434.46, 802), (434.72, 866), (434.97, 961), (435.21, 853), (427.67, 1407),
    (428.31, 1343), (429.08, 1407), (430.87, 1407), (431.51, 1471), (432.15, 1471), (433.9, 1343),
    (427.25, 1180), (427.55, 1175), (427.85, 1185), (428.05, 1170), (428.25, 1180), (428.5, 1175),
    (428.75, 1185), (429.0, 1170), (429.25, 1180), (429.5, 1175), (429.7, 1185), (429.9, 1180),
    (430.1, 1175), (430.35, 1190), (430.6, 1185), (430.9, 1195), (431.15, 1190), (431.4, 1195),
    (431.65, 1190), (431.9, 1185), (432.15, 1180), (427.9, 1060), (428.4, 1000), (429.0, 1030), (429.4, 980),
]

BASE_PRE = [BASE_PRE_SPRING, BASE_PRE_SUMMER, BASE_PRE_FALL, BASE_PRE_WINTER]
BASE_POST = [BASE_POST_SPRING, BASE_POST_SUMMER, BASE_POST_FALL, BASE_POST_WINTER]
BASE_BOXES = [BASE_BOX_SPRING, BASE_BOX_SUMMER, BASE_BOX_FALL, BASE_BOX_WINTER]
PEAK_PRE = [PEAK_PRE_SPRING, PEAK_PRE_SUMMER, PEAK_PRE_FALL, PEAK_PRE_WINTER]
PEAK_POST = [PEAK_POST_SPRING, PEAK_POST_SUMMER, PEAK_POST_FALL, PEAK_POST_WINTER]
PEAK_PRE_BOXES = [PEAK_PRE_BOX_SPRING, PEAK_PRE_BOX_SUMMER, PEAK_PRE_BOX_FALL, PEAK_PRE_BOX_WINTER]
PEAK_POST_BOXES = [PEAK_POST_BOX_SPRING, PEAK_POST_BOX_SUMMER, PEAK_POST_BOX_FALL, PEAK_POST_BOX_WINTER]

# ---- styling / layout (pixels) ----
FIG_W, FIG_H = 1135, 1276
X_LIM = (423.08, 441.25)
BASE_Y_LIM = (-65, 1805)
PEAK_Y_LIM = (-65, 2070)
COLS = [(101, 593), (607, 1099)]
SIDE_STRIP = (1100, 1138)
A_STRIP = (46, 84)
A_ROWS = [(85, 197), (211, 323), (337, 449), (463, 575)]
B_STRIP = (670, 707)
B_ROWS = [(708, 820), (834, 946), (960, 1072), (1086, 1198)]

EDGE = '#4d4d4d'
STRIP_FILL = '#d6d6d6'
POINT = '#727272'
TICK_LABEL = '#4d4d4d'


def px_axes(fig, x0, y0, x1, y1):
    return fig.add_axes([x0 / FIG_W, 1 - y1 / FIG_H, (x1 - x0) / FIG_W, (y1 - y0) / FIG_H])


def style_frame(ax):
    for s in ax.spines.values():
        s.set_color(EDGE)
        s.set_linewidth(1.1)


def strip(fig, box, label, rotation=0):
    ax = px_axes(fig, *box)
    ax.set_facecolor(STRIP_FILL)
    ax.set_xticks([])
    ax.set_yticks([])
    style_frame(ax)
    ax.text(0.5, 0.5, label, transform=ax.transAxes, ha='center', va='center',
            rotation=rotation, fontsize=14.3, color='#1a1a1a')


def panel(fig, box, pts, rect, ylim, yticks, left_col, bottom_row, peak):
    ax = px_axes(fig, *box)
    xs = [p[0] for p in pts]
    ys = [p[1] for p in pts]
    ax.scatter(xs, ys, s=6.5, c=POINT, linewidths=0, zorder=2)
    x0, x1, y0, y1 = rect
    if peak:
        ax.add_patch(Rectangle((x0, y0), x1 - x0, y1 - y0, facecolor=(0, 0, 1, 0.55),
                               edgecolor=(0, 0, 1, 1), linewidth=1.3, zorder=3))
    else:
        ax.add_patch(Rectangle((x0, y0), x1 - x0, y1 - y0, facecolor=(0, 0, 1, 0.55),
                               edgecolor=(0, 0, 1, 0.25), linewidth=1.2, zorder=3))
    ax.set_xlim(X_LIM)
    ax.set_ylim(ylim)
    ax.set_xticks(X_TICKS)
    ax.set_yticks(yticks)
    ax.yaxis.set_major_formatter(FuncFormatter(lambda v, p: f'{v:,.0f}'))
    ax.tick_params(length=4, width=1, color=EDGE, labelcolor=TICK_LABEL, labelsize=14.3, pad=3)
    if not bottom_row:
        ax.tick_params(axis='x', length=0, labelbottom=False)
    if not left_col:
        ax.tick_params(axis='y', length=0, labelleft=False)
    style_frame(ax)
    return ax


def draw_block(fig, strip_box, rows, pre, post, boxes_pre, boxes_post, ylim, yticks, peak):
    for (c0, c1), name in zip(COLS, PERIODS):
        strip(fig, (c0, strip_box[0], c1, strip_box[1]), name)
    for i, (r0, r1) in enumerate(rows):
        last = i == len(rows) - 1
        panel(fig, (COLS[0][0], r0, COLS[0][1], r1), pre[i], boxes_pre[i], ylim, yticks, True, last, peak)
        panel(fig, (COLS[1][0], r0, COLS[1][1], r1), post[i], boxes_post[i], ylim, yticks, False, last, peak)
        strip(fig, (SIDE_STRIP[0], r0, SIDE_STRIP[1], r1), SEASONS[i], rotation=-90)


fig = plt.figure(figsize=(FIG_W / 100, FIG_H / 100), dpi=100)

draw_block(fig, A_STRIP, A_ROWS, BASE_PRE, BASE_POST, BASE_BOXES, BASE_BOXES,
           BASE_Y_LIM, BASE_Y_TICKS, peak=False)
draw_block(fig, B_STRIP, B_ROWS, PEAK_PRE, PEAK_POST, PEAK_PRE_BOXES, PEAK_POST_BOXES,
           PEAK_Y_LIM, PEAK_Y_TICKS, peak=True)

fig.text(101 / FIG_W, 1 - 21 / FIG_H, 'A) Base Conditions Comparison', fontsize=21.5,
         ha='left', va='center', color='#111111')
fig.text(101 / FIG_W, 1 - 644 / FIG_H, 'B) Peak Conditions Comparison', fontsize=21.5,
         ha='left', va='center', color='#111111')
fig.text(20 / FIG_W, 1 - 330 / FIG_H, 'Average Daily Discharge (cms)', rotation=90,
         fontsize=18.5, ha='center', va='center', color='#111111')
fig.text(20 / FIG_W, 1 - 950 / FIG_H, 'Peak Daily Discharge (cms)', rotation=90,
         fontsize=18.5, ha='center', va='center', color='#111111')
fig.text(574 / FIG_W, 1 - 1258 / FIG_H, 'ALR Level (m)', fontsize=19.5,
         ha='center', va='center', color='#111111')

fig.savefig('out.png', dpi=100)
